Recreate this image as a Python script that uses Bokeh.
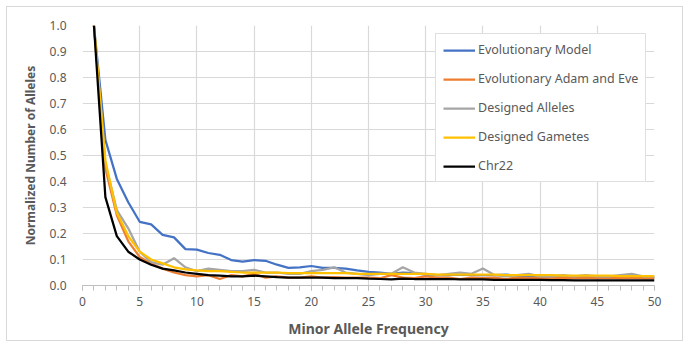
from bokeh.plotting import figure
from bokeh.models import SingleIntervalTicker, NumeralTickFormatter, Legend, LegendItem
from bokeh.embed import file_html
from bokeh.resources import INLINE

maf = list(range(1, 51))
evolutionary_model = [1.0, 0.56, 0.41, 0.32, 0.245, 0.235, 0.195, 0.185, 0.14, 0.138,
                      0.125, 0.118, 0.098, 0.092, 0.098, 0.095, 0.08, 0.068, 0.07, 0.075,
                      0.068, 0.068, 0.065, 0.058, 0.052, 0.05, 0.045, 0.05, 0.048, 0.042,
                      0.04, 0.04, 0.042, 0.04, 0.04, 0.04, 0.042, 0.038, 0.036, 0.036,
                      0.033, 0.033, 0.03, 0.033, 0.03, 0.03, 0.03, 0.03, 0.03, 0.03]
evolutionary_adam_eve = [1.0, 0.45, 0.27, 0.17, 0.11, 0.085, 0.065, 0.05, 0.04, 0.035,
                         0.04, 0.025, 0.04, 0.035, 0.045, 0.03, 0.035, 0.03, 0.03, 0.035,
                         0.03, 0.032, 0.03, 0.03, 0.03, 0.028, 0.04, 0.03, 0.028, 0.035,
                         0.03, 0.03, 0.025, 0.03, 0.028, 0.03, 0.025, 0.03, 0.028, 0.03,
                         0.028, 0.03, 0.028, 0.03, 0.028, 0.03, 0.028, 0.03, 0.028, 0.028]
designed_alleles = [1.0, 0.47, 0.29, 0.22, 0.13, 0.09, 0.08, 0.105, 0.07, 0.055,
                    0.065, 0.06, 0.055, 0.055, 0.06, 0.05, 0.05, 0.045, 0.045, 0.055,
                    0.06, 0.07, 0.05, 0.045, 0.04, 0.045, 0.045, 0.07, 0.05, 0.045,
                    0.04, 0.045, 0.05, 0.045, 0.065, 0.04, 0.035, 0.04, 0.045, 0.035,
                    0.035, 0.04, 0.035, 0.04, 0.035, 0.035, 0.04, 0.045, 0.035, 0.035]
designed_gametes = [1.0, 0.48, 0.28, 0.19, 0.13, 0.1, 0.085, 0.07, 0.062, 0.058,
                    0.055, 0.055, 0.052, 0.05, 0.05, 0.05, 0.05, 0.048, 0.048, 0.048,
                    0.048, 0.048, 0.048, 0.045, 0.045, 0.045, 0.045, 0.045, 0.045, 0.045,
                    0.042, 0.042, 0.042, 0.042, 0.042, 0.042, 0.04, 0.04, 0.04, 0.04,
                    0.04, 0.038, 0.038, 0.038, 0.038, 0.038, 0.036, 0.036, 0.036, 0.036]
chr22 = [1.0, 0.34, 0.19, 0.13, 0.1, 0.08, 0.065, 0.058, 0.05, 0.045,
         0.04, 0.038, 0.035, 0.035, 0.038, 0.035, 0.032, 0.03, 0.03, 0.03,
         0.03, 0.028, 0.028, 0.028, 0.026, 0.025, 0.024, 0.026, 0.025, 0.025,
         0.025, 0.025, 0.024, 0.024, 0.024, 0.022, 0.022, 0.022, 0.022, 0.022,
         0.021, 0.021, 0.02, 0.02, 0.02, 0.02, 0.02, 0.02, 0.02, 0.02]

series_names = ["Evolutionary Model", "Evolutionary Adam and Eve", "Designed Alleles",
                "Designed Gametes", "Chr22"]
series_values = [evolutionary_model, evolutionary_adam_eve, designed_alleles,
                 designed_gametes, chr22]
colors = ["#4472C4", "#ED7D31", "#A5A5A5", "#FFC000", "#000000"]

FONT = "Noto Sans"
TXT = "#595959"

p = figure(width=677, height=335, x_range=(0, 50), y_range=(0, 1.0),
           output_backend="svg", toolbar_location=None,
           min_border_left=75, min_border_right=30, min_border_top=18, min_border_bottom=57)
p.styles = {"border": "1px solid #d9d9d9", "margin-left": "6px", "margin-top": "6px"}
p.outline_line_color = None

items = []
for name, vals, c in zip(series_names, series_values, colors):
    r = p.line(maf, vals, line_color=c, line_width=2.25)
    items.append(LegendItem(label=name, renderers=[r]))

legend = Legend(items=items, location=(353, 103),
                label_text_font=FONT, label_text_font_size="12.5px",
                label_text_color=TXT, glyph_width=32, glyph_height=14,
                label_height=14, spacing=12, padding=7, margin=0,
                label_standoff=3, border_line_color="#bfbfbf",
                background_fill_color="white", background_fill_alpha=1.0)
p.add_layout(legend)

p.xaxis.ticker = SingleIntervalTicker(interval=5, num_minor_ticks=5)
p.yaxis.ticker = SingleIntervalTicker(interval=0.1)
p.yaxis.formatter = NumeralTickFormatter(format="0.0")

p.xgrid.grid_line_color = "#d9d9d9"
p.ygrid.grid_line_color = "#d9d9d9"
p.xgrid.grid_line_width = 1.2
p.ygrid.grid_line_width = 1.2

p.xaxis.axis_line_color = "#bfbfbf"
p.xaxis.major_tick_line_color = "#bfbfbf"
p.xaxis.minor_tick_line_color = "#bfbfbf"
p.xaxis.major_tick_in = 0
p.xaxis.major_tick_out = 5
p.xaxis.minor_tick_in = 0
p.xaxis.minor_tick_out = 5

p.yaxis.axis_line_color = None
p.yaxis.major_tick_line_color = None
p.yaxis.minor_tick_line_color = None

for ax in (p.xaxis, p.yaxis):
    ax.major_label_text_font = FONT
    ax.major_label_text_font_size = "12px"
    ax.major_label_text_color = TXT
    ax.axis_label_text_font = FONT
    ax.axis_label_text_font_style = "bold"
    ax.axis_label_text_color = TXT

p.xaxis.major_label_standoff = 6
p.xaxis.axis_label = "Minor Allele Frequency"
p.xaxis.axis_label_text_font_size = "14px"
p.xaxis.axis_label_standoff = 10
p.yaxis.axis_label = "Normalized Number of Alleles"
p.yaxis.axis_label_text_font_size = "12px"
p.yaxis.major_label_standoff = 10
p.yaxis.axis_label_standoff = 8

open("out.html", "w").write(file_html(p, INLINE))
